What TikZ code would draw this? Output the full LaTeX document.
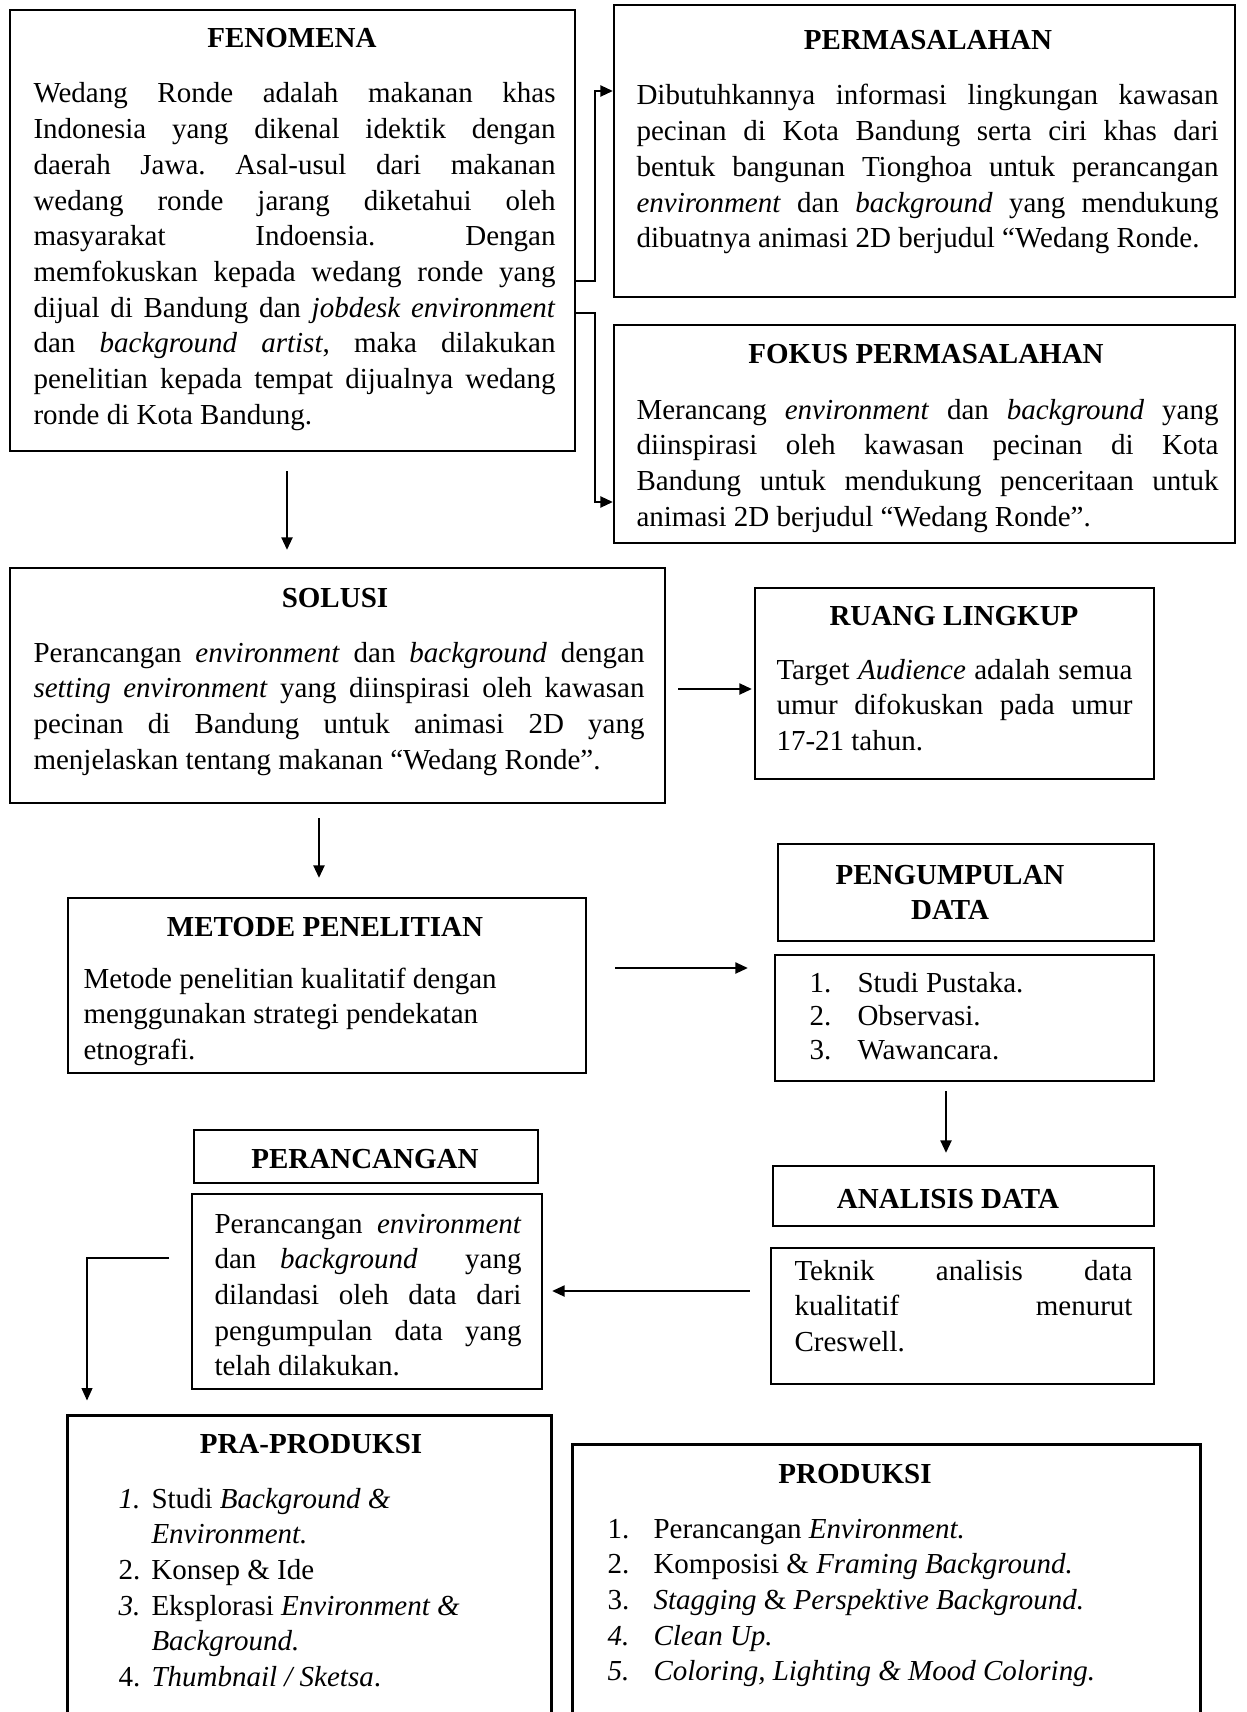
\documentclass[tikz,border=0pt]{standalone}
\usepackage{fontspec}
\setmainfont{Liberation Serif}
\usetikzlibrary{arrows.meta,fit}
\frenchspacing
\newcommand{\jline}[1]{\makebox[\hsize][s]{#1}}
\newcommand{\numit}[2]{\makebox[#1][l]{#2}}
\tikzset{
  box/.style={draw, line width=0.9pt, inner sep=0pt, fit={#1}},
  hid/.style={draw=none, inner sep=0pt, fit={#1}},
  ttl/.style={font=\fontsize{11.6}{14.28}\selectfont\bfseries, anchor=base, inner sep=0pt},
  body/.style={anchor=base west, inner sep=0pt, text width=#1, align=justify},
  arr/.style={line width=0.85pt, -{Triangle[length=5pt,width=4.4pt]}},
  thinarr/.style={line width=0.5pt, -{Triangle[length=5pt,width=4.4pt]}},
  openbox/.style={line width=0.9pt}
}
\begin{document}
\frenchspacing
\begin{tikzpicture}[x=0.4pt,y=-0.4pt, font=\fontsize{11.6}{14.28}\selectfont]
\useasboundingbox (0,0) rectangle (1246,1712);
\fill[white] (0,0) rectangle (1246,1712);
\clip (0,0) rectangle (1246,1712);

% ---------- FENOMENA ----------
\node[box={(10,10) (575,451)}] (fen) {};
\node[ttl] (fenT) at (292,48) {FENOMENA};
\node[body=208.8pt] (fenB) at (33,103) {%
\jline{Wedang Ronde adalah makanan khas}\\
\jline{Indonesia yang dikenal idektik dengan}\\
\jline{daerah Jawa. Asal-usul dari makanan}\\
\jline{wedang ronde jarang diketahui oleh}\\
\jline{masyarakat Indoensia. Dengan}\\
\jline{memfokuskan kepada wedang ronde yang}\\
\jline{dijual di Bandung dan \textit{jobdesk environment}}\\
\jline{dan \textit{background artist}, maka dilakukan}\\
\jline{penelitian kepada tempat dijualnya wedang}\\
\mbox{ronde di Kota Bandung.}};

% ---------- PERMASALAHAN ----------
\node[box={(614,5) (1235,297)}] (perm) {};
\node[ttl] (permT) at (928,50) {PERMASALAHAN};
\node[body=232.8pt] (permB) at (636,105) {%
\jline{Dibutuhkannya informasi lingkungan kawasan}\\
\jline{pecinan di Kota Bandung serta ciri khas dari}\\
\jline{bentuk bangunan Tionghoa untuk perancangan}\\
\jline{\textit{environment} dan \textit{background} yang mendukung}\\
\mbox{dibuatnya animasi 2D berjudul “Wedang Ronde.}};

% ---------- FOKUS PERMASALAHAN ----------
\node[box={(614,325) (1235,543)}] (fok) {};
\node[ttl] (fokT) at (926,363) {FOKUS PERMASALAHAN};
\node[body=232.8pt] (fokB) at (636,419) {%
\jline{Merancang \textit{environment} dan \textit{background} yang}\\
\jline{diinspirasi oleh kawasan pecinan di Kota}\\
\jline{Bandung untuk mendukung penceritaan untuk}\\
\mbox{animasi 2D berjudul “Wedang Ronde”.}};

% ---------- SOLUSI ----------
\node[box={(10,568) (665,803)}] (sol) {};
\node[ttl] (solT) at (335,607) {SOLUSI};
\node[body=244.4pt] (solB) at (33,662) {%
\jline{Perancangan \textit{environment} dan \textit{background} dengan}\\
\jline{\textit{setting environment} yang diinspirasi oleh kawasan}\\
\jline{pecinan di Bandung untuk animasi 2D yang}\\
\mbox{menjelaskan tentang makanan “Wedang Ronde”.}};

% ---------- RUANG LINGKUP ----------
\node[box={(755,588) (1154,779)}] (ruang) {};
\node[ttl] (ruangT) at (954,625) {RUANG LINGKUP};
\node[body=142.4pt] (ruangB) at (776,679) {%
\jline{Target \textit{Audience} adalah semua}\\
\jline{umur difokuskan pada umur}\\
\mbox{17-21 tahun.}};

% ---------- METODE PENELITIAN ----------
\node[box={(68,898) (586,1073)}] (met) {};
\node[ttl] (metT) at (325,936) {METODE PENELITIAN};
\node[body=192pt] (metB) at (83,988) {%
\mbox{Metode penelitian kualitatif dengan}\\
\mbox{menggunakan strategi pendekatan}\\
\mbox{etnografi.}};

% ---------- PENGUMPULAN DATA ----------
\node[box={(778,844) (1154,941)}] (pengt) {};
\node[ttl, text width=130pt, align=center] (pengT) at (950,884) {PENGUMPULAN\\DATA};
\node[box={(775,955) (1154,1081)}] (pengl) {};
\node[body=130pt, font=\fontsize{11.6}{13.4}\selectfont] (pengL) at (809,992) {%
\numit{19.2pt}{1.}Studi Pustaka.\\
\numit{19.2pt}{2.}Observasi.\\
\numit{19.2pt}{3.}Wawancara.};

% ---------- ANALISIS DATA ----------
\node[box={(773,1166) (1154,1226)}] (anat) {};
\node[ttl] (anaT) at (948,1208) {ANALISIS DATA};
\node[box={(771,1248) (1154,1384)}] (anab) {};
\node[body=135.2pt] (anaB) at (794,1280) {%
\jline{Teknik analisis data}\\
\jline{kualitatif menurut}\\
\mbox{Creswell.}};

% ---------- PERANCANGAN ----------
\node[box={(194,1130) (538,1183)}] (pert) {};
\node[ttl] (perT) at (365,1168) {PERANCANGAN};
\node[box={(192,1194) (542,1389)}] (perb) {};
\node[body=122.8pt] (perB) at (214,1233) {%
\jline{Perancangan \textit{environment}}\\
\jline{dan \textit{background} \ yang}\\
\jline{dilandasi oleh data dari}\\
\jline{pengumpulan data yang}\\
\mbox{telah dilakukan.}};

% ---------- PRA-PRODUKSI ----------
\node[hid={(68,1416) (551,1760)}] (pra) {};
\draw[openbox] (pra.south west) -- (pra.north west) -- (pra.north east) -- (pra.south east);
\node[ttl] (praT) at (311,1453) {PRA-PRODUKSI};
\node[body=180pt] (praL) at (118,1508) {%
\numit{13.2pt}{\textit{1.}}Studi \textit{Background \&}\\
\hspace*{13.2pt}\textit{Environment.}\\
\numit{13.2pt}{2.}Konsep \& Ide\\
\numit{13.2pt}{\textit{3.}}Eksplorasi \textit{Environment \&}\\
\hspace*{13.2pt}\textit{Background.}\\
\numit{13.2pt}{4.}\textit{Thumbnail / Sketsa}.};

% ---------- PRODUKSI ----------
\node[hid={(573,1445) (1200,1760)}] (prod) {};
\draw[openbox] (prod.south west) -- (prod.north west) -- (prod.north east) -- (prod.south east);
\node[ttl] (prodT) at (855,1483) {PRODUKSI};
\node[body=230pt] (prodL) at (607,1538) {%
\numit{18.4pt}{1.}Perancangan \textit{Environment.}\\
\numit{18.4pt}{2.}Komposisi \& \textit{Framing Background.}\\
\numit{18.4pt}{3.}\textit{Stagging} \& \textit{Perspektive Background.}\\
\numit{18.4pt}{\textit{4.}}\textit{Clean Up.}\\
\numit{18.4pt}{\textit{5.}}\textit{Coloring, Lighting \& Mood Coloring.}};

% ---------- connectors ----------
\coordinate (k1) at (595,281);
\coordinate (k2) at (595,91);
\coordinate (k3) at (595,313);
\coordinate (k4) at (595,502);
\draw[arr] (fen.east |- k1) -- (k1) -- (k2) -- (perm.west |- k2);
\draw[arr] (fen.east |- k3) -- (k3) -- (k4) -- (fok.west |- k4);

\coordinate (xa) at (287,0);
\draw[arr, shorten <=7.6pt, shorten >=6.8pt] (fen.south -| xa) -- (sol.north -| xa);
\coordinate (ya) at (0,689);
\draw[arr, shorten <=4.8pt, shorten >=0.8pt] (sol.east |- ya) -- (ruang.west |- ya);
\coordinate (xb) at (319,0);
\draw[arr, shorten <=5.6pt, shorten >=7.6pt] (sol.south -| xb) -- (met.north -| xb);
\coordinate (yb) at (0,968);
\draw[arr, shorten <=11.2pt, shorten >=10.4pt] (met.east |- yb) -- (pengl.west |- yb);
\coordinate (xc) at (946,0);
\draw[arr, shorten <=3.6pt, shorten >=4.8pt] (pengl.south -| xc) -- (anat.north -| xc);
\coordinate (yc) at (0,1291);
\draw[arr, shorten <=8pt, shorten >=3.6pt] (anab.west |- yc) -- (perb.east |- yc);
\coordinate (pstart) at (169,1258);
\coordinate (pbend) at (87,1258);
\draw[thinarr, shorten >=6pt] (pstart) -- (pbend) -- (pra.north -| pbend);
\end{tikzpicture}
\end{document}
